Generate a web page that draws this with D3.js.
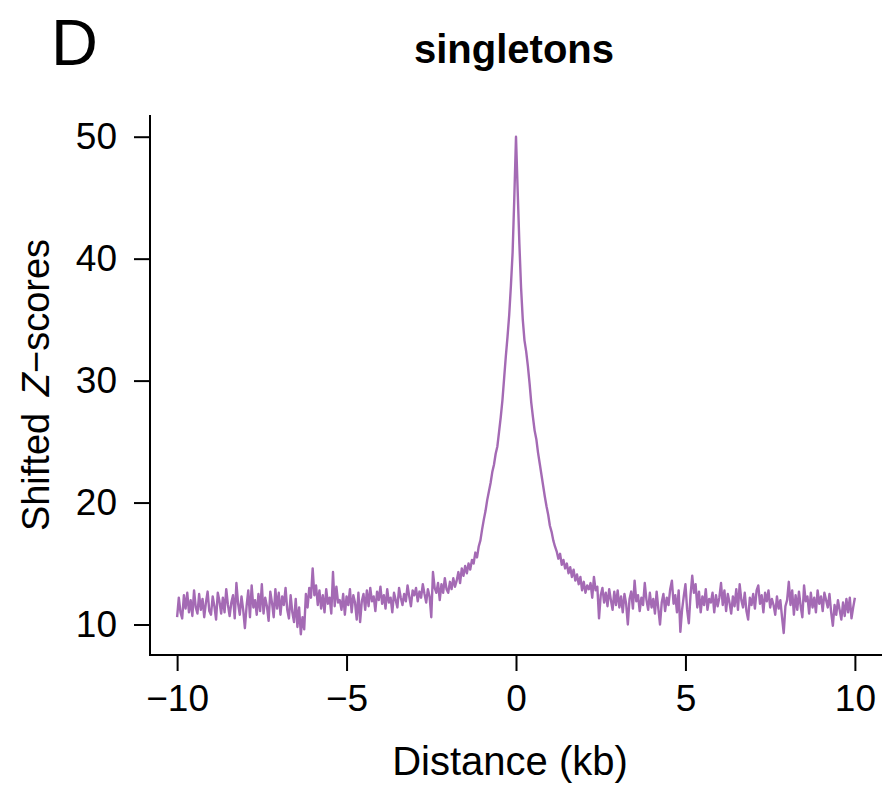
<!DOCTYPE html>
<html lang="en">
<head>
<meta charset="UTF-8">
<title>singletons</title>
<script src="https://d3js.org/d3.v7.min.js"></script>
<style>
    body { margin: 0; background: #fff; }
    svg { display: block; font-family: "Liberation Sans", Arial, Helvetica, sans-serif; }
</style>
</head>
<body>
<div id="chart"></div>
<script>
    // distance grid: first point and spacing (kb)
    var startKb = -10;
    var stepKb = 0.05;

    // shifted Z-scores, one row per kb (20 values each)
    var zRows = [
        [10.6, 12.2, 11.0, 10.5, 12.4, 11.3, 12.6, 11.0, 12.0, 10.7, 12.8, 11.4, 10.9, 12.5, 11.2, 12.1, 10.6, 11.8, 12.7, 11.1],   // -10
        [10.8, 12.3, 11.5, 10.4, 12.6, 11.9, 10.9, 12.2, 11.0, 12.9, 11.6, 10.7, 11.8, 12.4, 10.5, 13.4, 11.7, 10.8, 12.3, 11.2],   // -9
        [9.7, 11.5, 12.8, 10.6, 13.2, 11.4, 12.0, 10.8, 12.5, 11.1, 13.3, 10.9, 12.2, 11.5, 10.3, 12.7, 11.8, 10.6, 12.9, 11.3],    // -8
        [12.6, 10.8, 12.3, 11.6, 13.0, 11.2, 10.5, 12.4, 11.0, 10.2, 12.1, 9.8, 11.4, 9.2, 10.6, 9.6, 12.5, 11.4, 13.0, 12.2],      // -7
        [14.6, 12.4, 13.2, 11.6, 12.8, 11.3, 12.4, 11.0, 12.9, 11.7, 12.2, 10.9, 14.3, 11.5, 13.1, 11.8, 12.0, 11.2, 12.5, 10.8],   // -6
        [12.3, 11.6, 12.9, 11.0, 12.4, 11.8, 10.4, 12.6, 10.2, 11.9, 12.5, 11.2, 12.8, 11.5, 13.0, 11.9, 12.3, 11.1, 12.7, 12.0],   // -5
        [13.1, 11.7, 12.4, 11.3, 12.9, 11.8, 12.2, 11.0, 12.6, 12.0, 11.4, 13.0, 12.2, 11.6, 12.5, 11.9, 13.2, 12.3, 11.5, 12.8],   // -4
        [12.4, 13.0, 11.9, 12.7, 12.2, 13.3, 12.5, 11.8, 12.9, 12.3, 10.6, 14.3, 13.0, 12.6, 13.4, 12.0, 13.3, 12.6, 13.8, 12.9],   // -3
        [12.6, 13.5, 12.9, 13.8, 13.1, 13.6, 14.3, 13.4, 14.6, 14.0, 14.8, 14.2, 15.0, 14.5, 15.3, 15.0, 15.9, 15.5, 16.4, 16.9],   // -2
        [17.8, 18.6, 19.3, 20.2, 20.9, 21.6, 22.5, 23.1, 24.0, 24.6, 25.8, 27.0, 28.4, 30.2, 32.0, 33.6, 35.4, 37.8, 40.5, 45.0],   // -1
        [50.0, 45.5, 41.2, 37.6, 35.0, 33.3, 32.4, 31.2, 29.8, 28.2, 27.0, 25.9, 25.2, 24.1, 23.2, 22.3, 21.4, 20.5, 19.7, 19.0],   // 0
        [18.1, 17.6, 16.9, 16.4, 16.0, 15.4, 15.8, 14.9, 15.3, 14.6, 15.0, 14.2, 14.7, 13.9, 14.5, 13.6, 14.1, 13.3, 13.9, 12.8],   // 1
        [13.5, 12.6, 13.2, 12.9, 13.4, 12.2, 13.9, 12.8, 13.1, 10.5, 12.4, 13.0, 11.8, 12.6, 11.5, 12.9, 12.0, 11.2, 12.7, 11.6],   // 2
        [12.8, 11.4, 12.3, 11.0, 12.5, 11.7, 10.0, 12.1, 12.7, 11.3, 13.6, 11.9, 12.4, 11.1, 12.2, 11.6, 13.4, 12.0, 11.2, 12.6],   // 3
        [11.4, 12.1, 10.9, 12.7, 11.3, 10.0, 11.8, 12.5, 11.1, 12.2, 11.6, 12.9, 13.6, 11.7, 12.4, 11.0, 12.8, 9.4, 11.2, 12.3],    // 4
        [13.3, 11.2, 10.1, 12.4, 14.0, 12.6, 13.3, 11.4, 12.7, 11.0, 12.3, 11.6, 12.9, 11.2, 12.1, 11.8, 12.6, 11.0, 12.4, 11.5],   // 5
        [12.2, 13.4, 11.6, 12.8, 11.1, 12.5, 11.8, 10.9, 12.3, 11.5, 12.9, 11.2, 13.3, 12.0, 11.4, 12.6, 11.1, 10.4, 12.2, 11.6],   // 6
        [12.5, 11.3, 12.8, 13.2, 11.7, 12.4, 11.0, 12.6, 11.9, 12.8, 11.4, 12.1, 11.6, 10.8, 12.3, 11.3, 12.0, 10.6, 9.3, 11.5],    // 7
        [12.0, 13.5, 11.6, 12.8, 10.8, 12.4, 11.2, 12.7, 11.5, 10.6, 13.2, 11.9, 12.3, 10.9, 12.6, 11.4, 12.2, 11.0, 12.8, 11.7],   // 8
        [12.3, 11.1, 12.6, 12.0, 11.4, 12.5, 11.0, 9.9, 11.6, 10.8, 12.0, 11.2, 10.4, 11.8, 10.7, 12.1, 11.0, 12.2, 10.5, 11.4],    // 9
        [12.2]                                                                                                                   // 10
    ];

    var xTicks = [-10, -5, 0, 5, 10];
    var yTicks = [10, 20, 30, 40, 50];

    var W = 883, H = 788;
    var plot = {left: 150, right: 882, top: 115, bottom: 655};

    var values = zRows.flat();
    var data = values.map(function(v, i) { return {kb: startKb + i * stepKb, z: v}; });

    var x = d3.scaleLinear().domain([-10.8, 10.8]).range([plot.left, plot.right]);
    var y = d3.scaleLinear().domain([7.5, 51.78]).range([plot.bottom, plot.top]);

    var svg = d3.select("#chart").append("svg")
        .attr("width", W)
        .attr("height", H);

    // panel letter
    svg.append("text")
        .attr("x", 51).attr("y", 65)
        .style("font-size", "65px")
        .text("D");

    // title
    svg.append("text")
        .attr("x", 514).attr("y", 63)
        .attr("text-anchor", "middle")
        .style("font-size", "40px")
        .style("font-weight", "bold")
        .text("singletons");

    // the data line
    svg.append("path")
        .datum(data)
        .attr("fill", "none")
        .attr("stroke", "#a46ab4")
        .attr("stroke-width", 2.4)
        .attr("stroke-linejoin", "round")
        .attr("d", d3.line()
            .x(function(d) { return x(d.kb); })
            .y(function(d) { return y(d.z); }));

    // L-shaped box (left + bottom)
    svg.append("path")
        .attr("fill", "none")
        .attr("stroke", "#000")
        .attr("stroke-width", 2)
        .attr("d", "M" + plot.left + "," + plot.top + "V" + plot.bottom + "H" + plot.right);

    // axes
    var gx = svg.append("g")
        .attr("transform", "translate(0," + plot.bottom + ")")
        .call(d3.axisBottom(x).tickValues(xTicks).tickSize(16).tickPadding(14));
    var gy = svg.append("g")
        .attr("transform", "translate(" + plot.left + ",0)")
        .call(d3.axisLeft(y).tickValues(yTicks).tickSize(16).tickPadding(17));

    [gx, gy].forEach(function(g) {
        g.select(".domain").remove();
        g.selectAll(".tick line").attr("stroke", "#000").attr("stroke-width", 2);
        g.selectAll(".tick text")
            .attr("fill", "#000")
            .style("font-size", "37px")
            .style("font-family", "'Liberation Sans', Arial, Helvetica, sans-serif");
    });

    // axis titles
    svg.append("text")
        .attr("x", 510).attr("y", 775)
        .attr("text-anchor", "middle")
        .style("font-size", "40px")
        .text("Distance (kb)");

    var ylab = svg.append("text")
        .attr("transform", "translate(49," + ((plot.top + plot.bottom) / 2) + ") rotate(-90)")
        .attr("text-anchor", "middle")
        .style("font-size", "38px");
    ylab.append("tspan").text("Shifted ");
    ylab.append("tspan").attr("dx", 6).style("font-style", "italic").text("Z");
    ylab.append("tspan").text("\u2212scores");
</script>
</body>
</html>
